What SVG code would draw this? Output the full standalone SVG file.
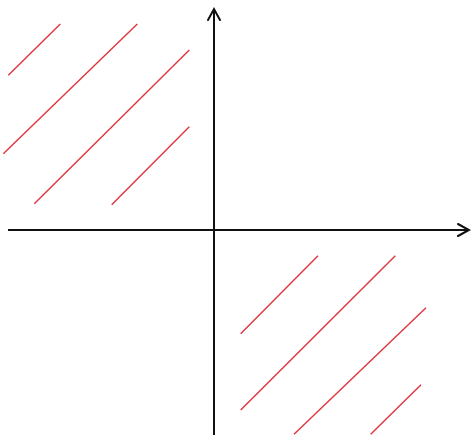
<svg xmlns="http://www.w3.org/2000/svg" width="471" height="435" viewBox="0 0 471 435">
<style>
.ax{stroke:#111;stroke-width:2;fill:none}
.hd{stroke:#111;stroke-width:2;fill:none;stroke-linecap:round;stroke-linejoin:miter}
.r{stroke:#e0343c;stroke-width:1.4;fill:none}
</style>
<rect width="471" height="435" fill="#fff"/>
<g id="axes">
<line class="ax" x1="214" y1="10" x2="214" y2="435"/>
<polyline class="hd" points="208,20 214,9 220,20"/>
<line class="ax" x1="8" y1="230" x2="468" y2="230"/>
<polyline class="hd" points="458,224 469,230 458,236"/>
</g>
<g id="hatch-q2">
<line class="r" x1="8.3" y1="75.3" x2="60.3" y2="24"/>
<line class="r" x1="3.3" y1="153.7" x2="137.3" y2="24"/>
<line class="r" x1="34.3" y1="203.7" x2="189.3" y2="50"/>
<line class="r" x1="111.7" y1="204.7" x2="189.3" y2="126.7"/>
</g>
<g id="hatch-q4">
<line class="r" x1="240.7" y1="333.7" x2="318" y2="255.7"/>
<line class="r" x1="240.7" y1="410" x2="395.3" y2="255.7"/>
<line class="r" x1="294" y1="434.3" x2="426" y2="307.7"/>
<line class="r" x1="370.7" y1="434.3" x2="421" y2="384.7"/>
</g>
</svg>
